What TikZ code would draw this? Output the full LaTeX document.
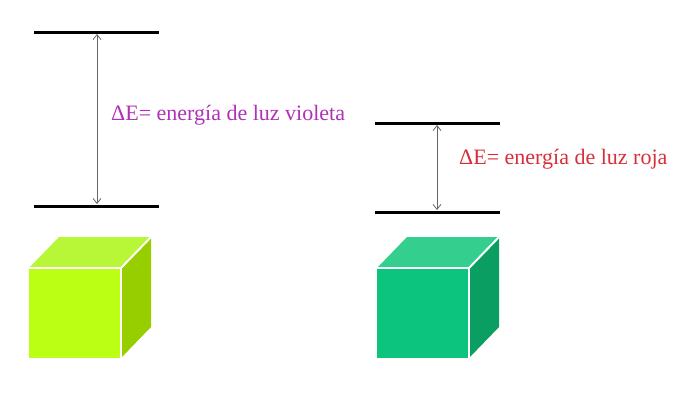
\documentclass[tikz,border=0pt]{standalone}
\usepackage{fontspec}
\setmainfont{Liberation Serif}
\usetikzlibrary{arrows.meta}
\definecolor{violettext}{RGB}{176,48,184}
\definecolor{redtext}{RGB}{214,46,58}
\definecolor{limefront}{RGB}{186,255,20}
\definecolor{limetop}{RGB}{184,246,56}
\definecolor{limeside}{RGB}{150,206,0}
\definecolor{jadefront}{RGB}{12,196,126}
\definecolor{jadetop}{RGB}{52,207,143}
\definecolor{jadeside}{RGB}{10,158,98}
\tikzset{
	level/.style={line width=3pt},
	gap/.style={<->, >={Straight Barb[length=5pt,width=8pt]}, draw=gray!80!black, line width=0.8pt, shorten >=2pt, shorten <=2pt},
	label/.style={anchor=west, inner sep=0pt, font=\fontsize{22}{26}\selectfont},
	cubeedge/.style={draw=white, line width=2pt, line join=round}
}
\newcommand{\drawlevels}[5]{   % x, y top, y bottom, arrow x, name
	\coordinate (#5tl) at (#1, #2);
	\coordinate (#5tr) at (#1 + 125, #2);
	\coordinate (#5bl) at (#1, #3);
	\coordinate (#5br) at (#1 + 125, #3);
	\coordinate (#5up) at (#4, #2);
	\coordinate (#5down) at (#4, #3);
	\draw[level] (#5tl) -- (#5tr);
	\draw[level] (#5bl) -- (#5br);
	\draw[gap] (#5up) -- (#5down);
}
\newcommand{\drawcube}[5]{   % x, y, front, top, side
	\fill[#4] (#1, #2) -- (#1 + 30, #2 - 31) -- (#1 + 122, #2 - 31) -- (#1 + 92, #2) -- cycle;
	\fill[#5] (#1 + 92, #2) -- (#1 + 122, #2 - 31) -- (#1 + 122, #2 + 59) -- (#1 + 92, #2 + 90) -- cycle;
	\fill[#3] (#1, #2) rectangle (#1 + 92, #2 + 90);
	\draw[cubeedge] (#1, #2) -- (#1 + 92, #2) -- (#1 + 92, #2 + 90);
	\draw[cubeedge] (#1 + 92, #2) -- (#1 + 122, #2 - 31);
}
\begin{document}
\begin{tikzpicture}[x=1pt, y=-1pt]
\useasboundingbox (0, 0) rectangle (696, 402);

% violet transition
\drawlevels{34}{32}{206}{97}{v};
\node[label, text=violettext] (vlabel) at (111, 115) {ΔE= energía de luz violeta};
\drawcube{29}{268}{limefront}{limetop}{limeside};

% red transition
\drawlevels{375}{123}{212}{437}{r};
\node[label, text=redtext] (rlabel) at (459, 159) {ΔE= energía de luz roja};
\drawcube{377}{268}{jadefront}{jadetop}{jadeside};

\end{tikzpicture}
\end{document}
